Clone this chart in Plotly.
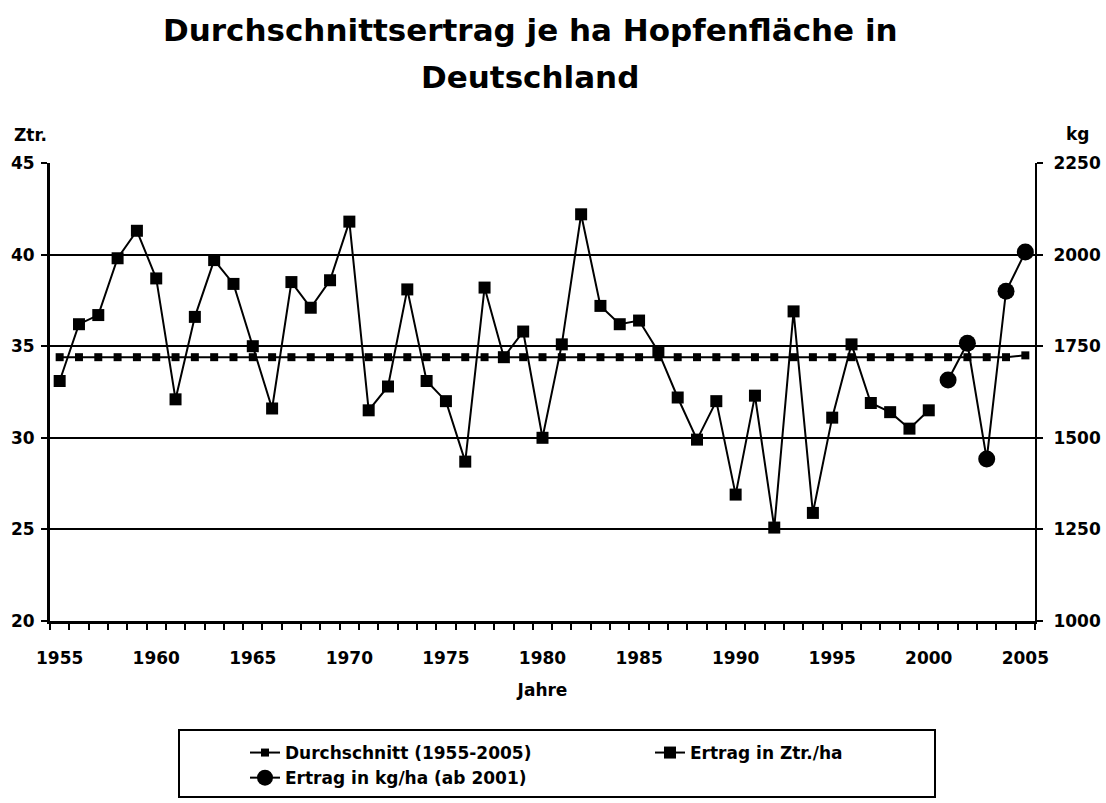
import plotly.graph_objects as go

years = list(range(1955, 2006))

avg_ztr = [34.4, 34.4, 34.4, 34.4, 34.4, 34.4, 34.4, 34.4, 34.4, 34.4,
           34.4, 34.4, 34.4, 34.4, 34.4, 34.4, 34.4, 34.4, 34.4, 34.4,
           34.4, 34.4, 34.4, 34.4, 34.4, 34.4, 34.4, 34.4, 34.4, 34.4,
           34.4, 34.4, 34.4, 34.4, 34.4, 34.4, 34.4, 34.4, 34.4, 34.4,
           34.4, 34.4, 34.4, 34.4, 34.4, 34.4, 34.4, 34.4, 34.4, 34.4,
           34.5]

ztr_years = list(range(1955, 2001))
ertrag_ztr = [33.1, 36.2, 36.7, 39.8, 41.3, 38.7, 32.1, 36.6, 39.7, 38.4,
              35.0, 31.6, 38.5, 37.1, 38.6, 41.8, 31.5, 32.8, 38.1, 33.1,
              32.0, 28.7, 38.2, 34.4, 35.8, 30.0, 35.1, 42.2, 37.2, 36.2,
              36.4, 34.7, 32.2, 29.9, 32.0, 26.9, 32.3, 25.1, 36.9, 25.9,
              31.1, 35.1, 31.9, 31.4, 30.5, 31.5]

kg_years = [2001, 2002, 2003, 2004, 2005]
ertrag_kg = [1658, 1758, 1442, 1900, 2007]

label_years = [1955, 1960, 1965, 1970, 1975, 1980, 1985, 1990, 1995, 2000, 2005]
left_ticks = [20, 25, 30, 35, 40, 45]
right_ticks = [1000, 1250, 1500, 1750, 2000, 2250]

title_line1 = "Durchschnittsertrag je ha Hopfenfläche in"
title_line2 = "Deutschland"

FONT = "DejaVu Sans, Liberation Sans, sans-serif"
bold = dict(family=FONT, color="black", weight="bold")

# plot area in pixels
PL, PR, PT, PB = 50, 1035, 163, 621
PW, PH = PR - PL, PB - PT


def px(x):
    return (x - PL) / PW


def py(y):
    return (PB - y) / PH


fig = go.Figure()
fig.add_trace(go.Scatter(
    x=years, y=avg_ztr, mode="lines+markers", name="Durchschnitt (1955-2005)",
    line=dict(color="black", width=2),
    marker=dict(symbol="square", size=8, color="black"),
))
fig.add_trace(go.Scatter(
    x=ztr_years, y=ertrag_ztr, mode="lines+markers", name="Ertrag in Ztr./ha",
    line=dict(color="black", width=2),
    marker=dict(symbol="square", size=12, color="black"),
))
fig.add_trace(go.Scatter(
    x=kg_years, y=ertrag_kg, mode="lines+markers", name="Ertrag in kg/ha (ab 2001)",
    xaxis="x2", yaxis="y2",
    line=dict(color="black", width=2),
    marker=dict(symbol="circle", size=17, color="black"),
))

fig.update_layout(
    width=1106, height=803,
    paper_bgcolor="white", plot_bgcolor="white",
    margin=dict(l=PL, r=1106 - PR, t=PT, b=803 - PB, autoexpand=False),
    xaxis=dict(
        range=[1954.5, 2005.5],
        tickmode="linear", tick0=1954.5, dtick=1,
        ticks="outside", ticklen=6, tickwidth=2, tickcolor="black",
        showticklabels=False, showgrid=False, zeroline=False,
        showline=True, linecolor="black", linewidth=3, automargin=False,
    ),
    xaxis2=dict(
        range=[1954.5, 2005.5], overlaying="x", side="bottom", anchor="y",
        tickmode="array", tickvals=label_years,
        ticktext=[str(v) for v in label_years],
        ticks="outside", ticklen=22, tickcolor="rgba(0,0,0,0)",
        showgrid=False, zeroline=False, showline=False, automargin=False,
        tickfont=dict(size=17, **bold),
        title=dict(text="Jahre", font=dict(size=17, **bold), standoff=16),
    ),
    yaxis=dict(
        range=[20, 45], tickmode="array", tickvals=left_ticks,
        showgrid=True, gridcolor="black", gridwidth=2, zeroline=False,
        showline=True, linecolor="black", linewidth=3, automargin=False,
        ticks="outside", ticklen=6, tickwidth=2, tickcolor="black",
        tickfont=dict(size=17, **bold), ticklabelstandoff=3,
    ),
    yaxis2=dict(
        range=[1000, 2250], tickmode="array", tickvals=right_ticks,
        overlaying="y", side="right", anchor="x", showgrid=False, zeroline=False,
        showline=True, linecolor="black", linewidth=2, automargin=False,
        ticks="outside", ticklen=6, tickwidth=2, tickcolor="black",
        tickfont=dict(size=17, **bold), ticklabelstandoff=7,
    ),
    showlegend=True,
    legend=dict(
        orientation="h", x=px(245), xanchor="left",
        y=py(735), yanchor="top",
        entrywidth=360, entrywidthmode="pixels",
        font=dict(size=17, **bold), bgcolor="rgba(0,0,0,0)",
        borderwidth=0, traceorder="normal",
    ),
    annotations=[
        dict(text=title_line1, x=px(530), y=py(30), xref="paper", yref="paper",
             xanchor="center", yanchor="middle", showarrow=False,
             font=dict(size=31, **bold)),
        dict(text=title_line2, x=px(530), y=py(77), xref="paper", yref="paper",
             xanchor="center", yanchor="middle", showarrow=False,
             font=dict(size=31, **bold)),
        dict(text="Ztr.", x=px(30), y=py(135), xref="paper", yref="paper",
             xanchor="center", yanchor="middle",
             showarrow=False, font=dict(size=17, **bold)),
        dict(text="kg", x=px(1077), y=py(134), xref="paper", yref="paper",
             xanchor="center", yanchor="middle",
             showarrow=False, font=dict(size=17, **bold)),
    ],
    shapes=[
        dict(type="rect", xref="paper", yref="paper",
             x0=px(179), x1=px(935), y0=py(797), y1=py(730),
             line=dict(color="black", width=2), fillcolor="rgba(0,0,0,0)"),
    ],
)

fig.write_html("out.html", config={"displayModeBar": False},
               post_script="document.body.style.margin='0';")
